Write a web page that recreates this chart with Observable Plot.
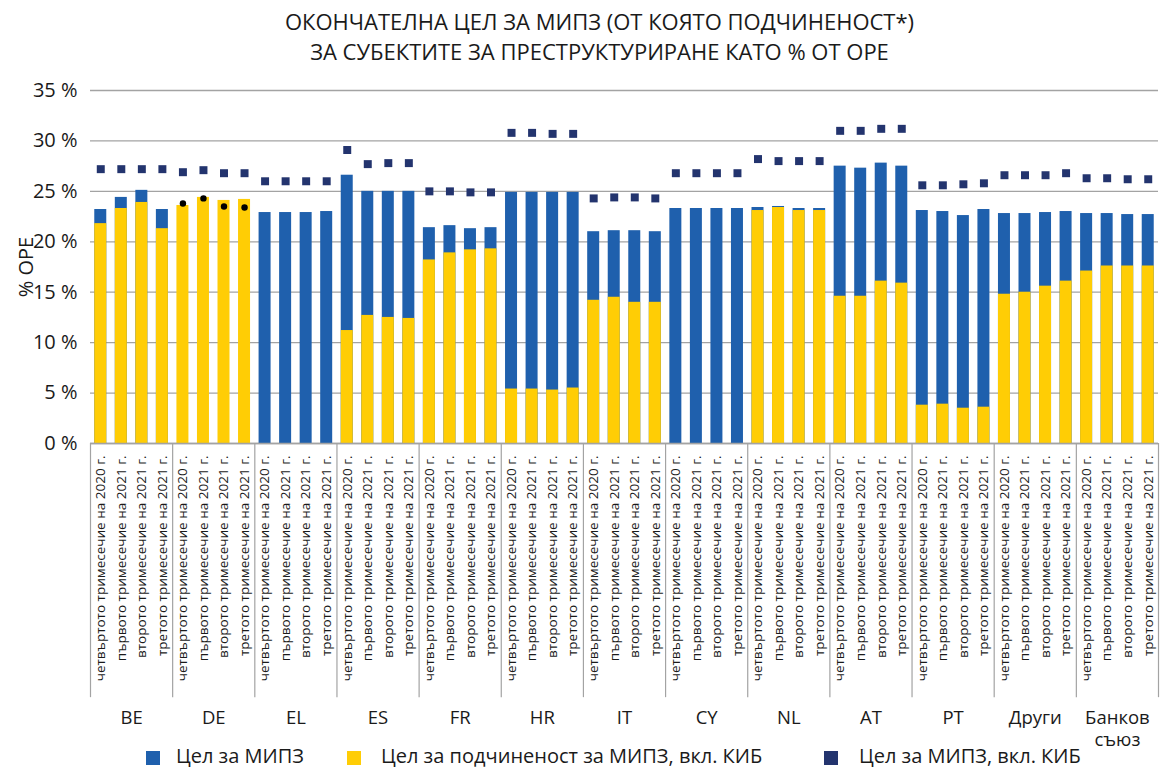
<!DOCTYPE html>
<html><head><meta charset="utf-8">
<script src="https://cdn.jsdelivr.net/npm/d3@7"></script>
<script src="https://cdn.jsdelivr.net/npm/@observablehq/plot@0.6"></script>
<style>
html,body{margin:0;padding:0;background:#fff;}
body{width:1161px;height:767px;overflow:hidden;font-family:"Open Sans",sans-serif;color:#1a1a1a;position:relative;}
#title{height:70px;box-sizing:border-box;padding-top:6px;text-align:center;font-size:22px;line-height:30px;padding-left:38px;}
#chart{position:absolute;top:70px;left:0;}
#chart svg{display:block;}
#legend{position:absolute;top:746px;left:0;width:1161px;height:21px;font-size:20px;}
.li{position:absolute;top:-1px;height:22px;line-height:22px;white-space:nowrap;}
.sw{position:absolute;top:5px;width:14px;height:14px;}
</style></head>
<body>
<div id="title">ОКОНЧАТЕЛНА ЦЕЛ ЗА МИПЗ (ОТ КОЯТО ПОДЧИНЕНОСТ*)<br>ЗА СУБЕКТИТЕ ЗА ПРЕСТРУКТУРИРАНЕ КАТО % ОТ ОРЕ</div>
<div id="chart"></div>
<div id="legend"></div>
<script>
const groups = ["BE","DE","EL","ES","FR","HR","IT","CY","NL","AT","PT","Други","Банков\nсъюз"];
const quarters = ["четвъртото тримесечие на 2020 г.","първото тримесечие на 2021 г.","второто тримесечие на 2021 г.","третото тримесечие на 2021 г."];

// Цел за МИПЗ (blue), per group, 4 quarters each
const mrelTarget = [
  [23.2, 24.4, 25.1, 23.2],   // BE
  [null, null, null, null],   // DE
  [22.9, 22.9, 22.9, 23.0],   // EL
  [26.6, 25.0, 25.0, 25.0],   // ES
  [21.4, 21.6, 21.3, 21.4],   // FR
  [24.9, 24.9, 24.9, 24.9],   // HR
  [21.0, 21.1, 21.1, 21.0],   // IT
  [23.3, 23.3, 23.3, 23.3],   // CY
  [23.4, 23.5, 23.3, 23.3],   // NL
  [27.5, 27.3, 27.8, 27.5],   // AT
  [23.1, 23.0, 22.6, 23.2],   // PT
  [22.8, 22.8, 22.9, 23.0],   // Други
  [22.8, 22.8, 22.7, 22.7]    // Банков съюз
];
// Цел за подчиненост за МИПЗ, вкл. КИБ (yellow)
const subTarget = [
  [21.8, 23.3, 23.9, 21.3],
  [23.6, 24.4, 24.1, 24.2],
  [0, 0, 0, 0],
  [11.2, 12.7, 12.5, 12.4],
  [18.2, 18.9, 19.2, 19.3],
  [5.4, 5.4, 5.3, 5.5],
  [14.2, 14.5, 14.0, 14.0],
  [0, 0, 0, 0],
  [23.1, 23.4, 23.1, 23.1],
  [14.6, 14.6, 16.1, 15.9],
  [3.8, 3.9, 3.5, 3.6],
  [14.8, 15.0, 15.6, 16.1],
  [17.1, 17.6, 17.6, 17.6]
];
// Цел за МИПЗ, вкл. КИБ (navy squares)
const mrelCbr = [
  [27.2, 27.2, 27.2, 27.2],
  [26.9, 27.1, 26.8, 26.8],
  [26.0, 26.0, 26.0, 26.0],
  [29.1, 27.7, 27.8, 27.8],
  [25.0, 25.0, 24.9, 24.9],
  [30.8, 30.8, 30.7, 30.7],
  [24.3, 24.4, 24.4, 24.3],
  [26.8, 26.8, 26.8, 26.8],
  [28.2, 28.0, 28.0, 28.0],
  [31.0, 31.0, 31.2, 31.2],
  [25.6, 25.6, 25.7, 25.8],
  [26.6, 26.6, 26.6, 26.8],
  [26.3, 26.3, 26.2, 26.2]
];
// black markers (DE only)
const deMarker = [23.8, 24.3, 23.5, 23.4];

const yTicks = [0, 5, 10, 15, 20, 25, 30, 35];
const legendItems = ["Цел за МИПЗ", "Цел за подчиненост за МИПЗ, вкл. КИБ", "Цел за МИПЗ, вкл. КИБ"];
const colors = ["#1f60ad", "#ffcd05", "#23346e"];
const separatorDepth = 25.2; // in % units below zero

const data = [];
groups.forEach((g, gi) => quarters.forEach((q, qi) => {
  data.push({
    key: gi + "|" + q,
    group: g,
    mrel: mrelTarget[gi][qi],
    sub: subTarget[gi][qi],
    cbr: mrelCbr[gi][qi],
    dot: g === "DE" ? deMarker[qi] : null
  });
}));
const keys = data.map(d => d.key);
const W = 1161, mL = 90, mR = 3;
const step = (W - mL - mR) / keys.length;
const inset = (step - 12) / 2;

const chart = Plot.plot({
  width: W, height: 690,
  marginLeft: mL, marginRight: mR, marginTop: 20, marginBottom: 317,
  style: {fontFamily: "Open Sans, sans-serif", fontSize: "13.5px", color: "#1a1a1a", background: "white"},
  x: {type: "band", domain: keys, padding: 0, round: false},
  y: {domain: [0, 35]},
  marks: [
    Plot.gridY(yTicks, {stroke: "#a3a3a3", strokeOpacity: 1, strokeWidth: 1.3}),
    Plot.axisY(yTicks, {tickSize: 0, tickPadding: 13, fontSize: 20, tickFormat: d => d + " %",
      label: "% ОРЕ", labelAnchor: "center", labelArrow: "none", labelOffset: 72}),
    Plot.barY(data, {x: "key", y: "mrel", fill: colors[0], insetLeft: inset, insetRight: inset}),
    Plot.barY(data, {x: "key", y: "sub", fill: colors[1], insetLeft: inset, insetRight: inset}),
    Plot.dot(data, {x: "key", y: "cbr", symbol: "square", r: 4.5, fill: colors[2], stroke: null}),
    Plot.dot(data, {x: "key", y: "dot", r: 3.2, fill: "black", stroke: null}),
    Plot.ruleY([0], {stroke: "#a3a3a3", strokeWidth: 1.3}),
    Plot.ruleX(keys.filter((k, i) => i % 4 === 0), {x: d => d, y1: 0, y2: -separatorDepth, dx: -step / 2, stroke: "#a3a3a3", strokeWidth: 1.2}),
    Plot.ruleX([keys[keys.length - 1]], {x: d => d, y1: 0, y2: -separatorDepth, dx: step / 2, stroke: "#a3a3a3", strokeWidth: 1.2}),
    Plot.axisX({tickRotate: -90, tickSize: 0, tickPadding: 12, fontSize: 13.5, tickFormat: d => d.split("|")[1], label: null}),
    Plot.text(groups, {x: (d, i) => keys[i * 4 + 1], y: () => 0, text: d => d, dx: step / 2, dy: 265,
      lineAnchor: "top", fontSize: 18.5, lineHeight: 1.2, fill: "#1a1a1a"})
  ]
});
document.getElementById("chart").appendChild(chart);
const svgSel = d3.select(chart);
svgSel.selectAll("g").filter(function () { return (this.getAttribute("aria-label") || "").startsWith("y-axis"); })
  .style("font-size", "20px");
svgSel.selectAll("g").filter(function () { return (this.getAttribute("aria-label") || "").startsWith("x-axis"); })
  .style("font-size", "13.5px");

const lefts = [[146, 176], [347, 381], [824, 859]];
const leg = document.getElementById("legend");
legendItems.forEach((t, i) => {
  const sw = document.createElement("div");
  sw.className = "sw"; sw.style.left = lefts[i][0] + "px"; sw.style.background = colors[i];
  leg.appendChild(sw);
  const li = document.createElement("div");
  li.className = "li"; li.style.left = lefts[i][1] + "px"; li.textContent = t;
  leg.appendChild(li);
});
</script>
</body></html>
